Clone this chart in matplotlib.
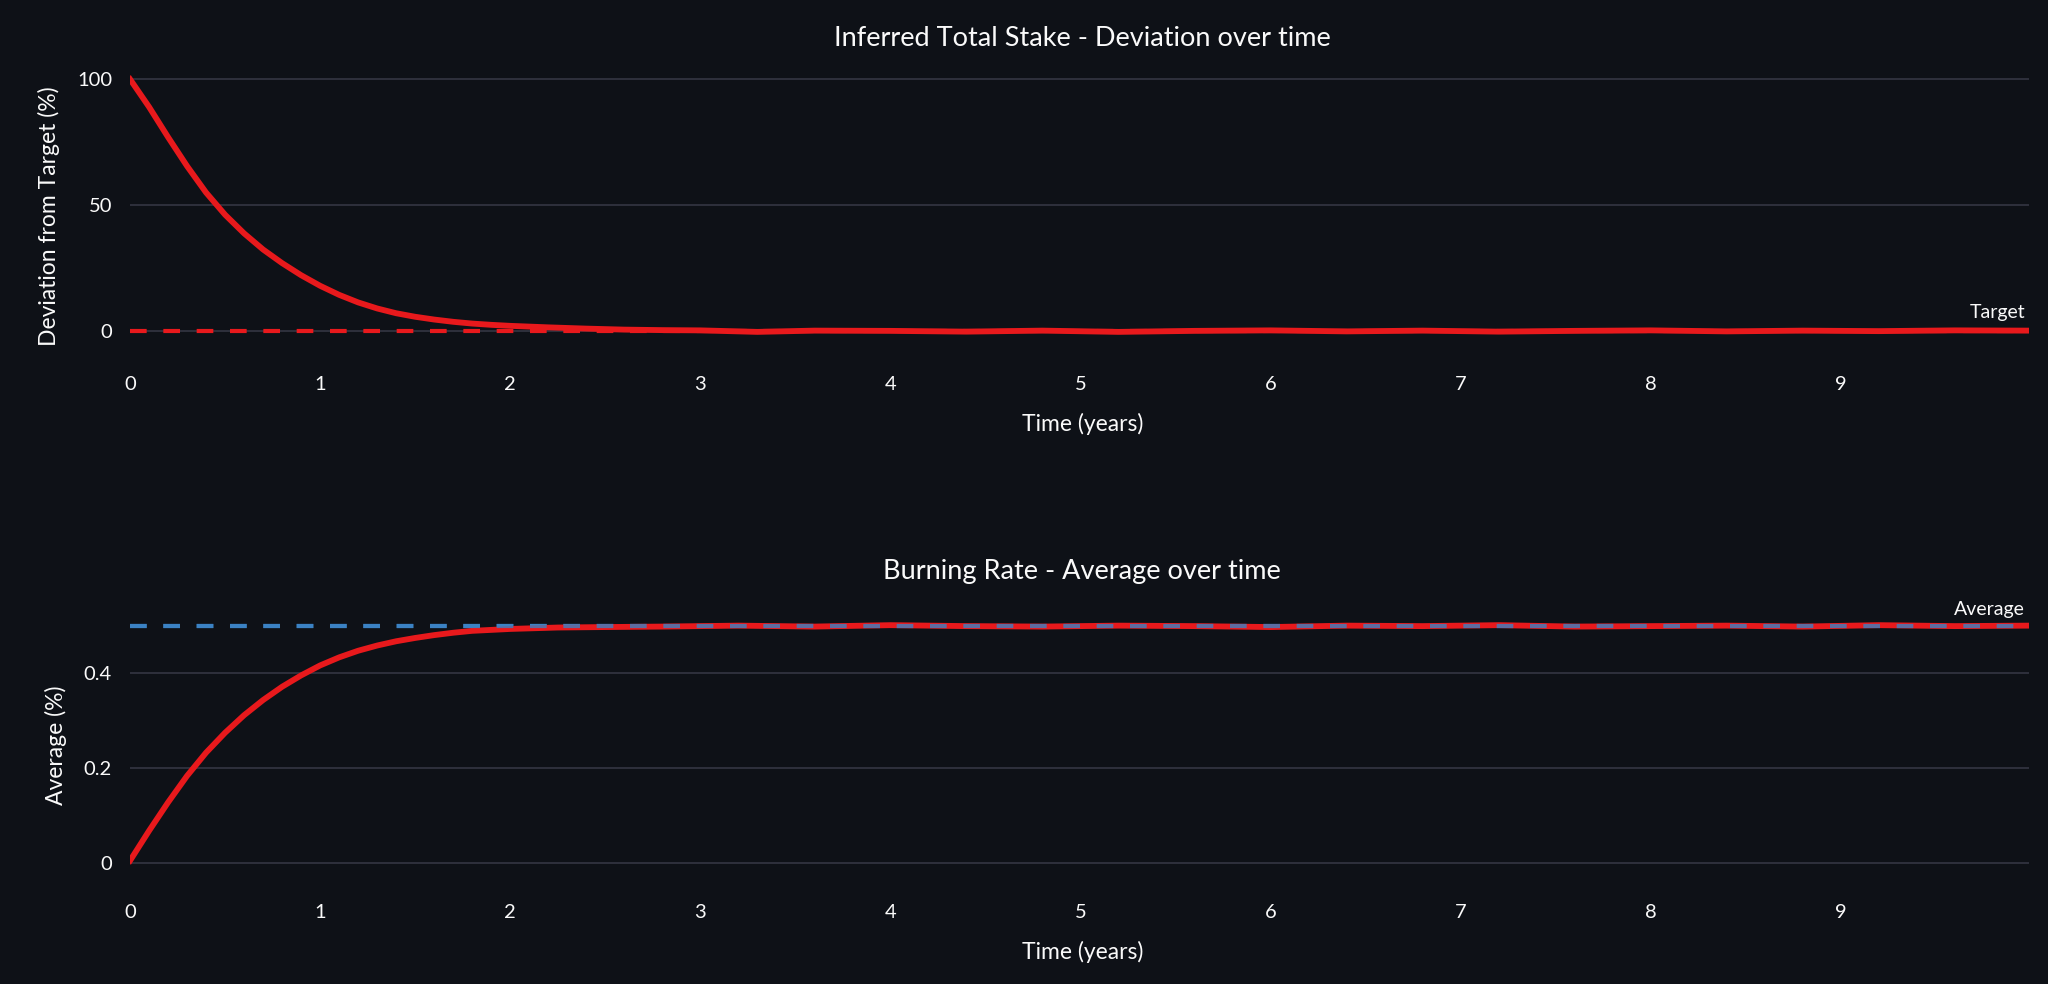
import matplotlib.pyplot as plt

plt.rcParams['font.family'] = ['Lato', 'DejaVu Sans']

BG = "#0e1117"
GRID = "#31333f"
TXT = "#fafafa"
RED = "#e8191c"
BLUE = "#3b82c4"

# values
t_dev = [0.0, 0.1, 0.2, 0.3, 0.4, 0.5, 0.6, 0.7, 0.8, 0.9, 1.0, 1.1, 1.2, 1.3, 1.4,
         1.5, 1.6, 1.7, 1.8, 1.9, 2.0, 2.2, 2.4, 2.6, 2.8, 3.0, 3.3, 3.6, 4.0, 4.4,
         4.8, 5.2, 5.6, 6.0, 6.4, 6.8, 7.2, 7.6, 8.0, 8.4, 8.8, 9.2, 9.6, 9.99]
deviation = [100, 89, 77, 65.5, 55, 46.2, 38.8, 32.4, 27, 22.2, 18, 14.4, 11.4, 9, 7.1,
             5.7, 4.6, 3.7, 3.0, 2.5, 2.1, 1.5, 1.0, 0.6, 0.4, 0.3, -0.3, 0.2, 0.1, -0.2,
             0.2, -0.3, 0.1, 0.3, -0.1, 0.2, -0.2, 0.1, 0.3, -0.1, 0.2, 0.0, 0.3, 0.2]

t_avg = [0.0, 0.1, 0.2, 0.3, 0.4, 0.5, 0.6, 0.7, 0.8, 0.9, 1.0, 1.1, 1.2, 1.3, 1.4,
         1.5, 1.6, 1.7, 1.8, 2.0, 2.25, 2.5, 2.8, 3.2, 3.6, 4.0, 4.4, 4.8, 5.2, 5.6,
         6.0, 6.4, 6.8, 7.2, 7.6, 8.0, 8.4, 8.8, 9.2, 9.6, 9.99]
average = [0.005, 0.068, 0.128, 0.184, 0.233, 0.275, 0.312, 0.344, 0.372, 0.396, 0.417,
           0.434, 0.448, 0.459, 0.468, 0.475, 0.481, 0.486, 0.490, 0.494, 0.497, 0.498,
           0.499, 0.501, 0.499, 0.502, 0.500, 0.499, 0.501, 0.500, 0.498, 0.501, 0.500,
           0.502, 0.499, 0.500, 0.501, 0.499, 0.502, 0.500, 0.501]

target = 0
avg_level = 0.5

fig = plt.figure(figsize=(20.48, 9.84), dpi=100, facecolor=BG)


def style(ax, yticks, ylabels, ylim):
    ax.set_facecolor(BG)
    for s in ax.spines.values():
        s.set_visible(False)
    ax.set_xlim(0, 9.99)
    ax.set_ylim(*ylim)
    ax.set_xticks(range(10))
    ax.set_yticks(yticks)
    ax.set_yticklabels(ylabels)
    ax.tick_params(length=0, colors=TXT, labelsize=14.5)
    ax.tick_params(axis='x', pad=10)
    ax.tick_params(axis='y', pad=13)
    ax.grid(axis='y', color=GRID, linewidth=1.3)
    ax.set_axisbelow(True)


ax1 = fig.add_axes([0.0635, 0.632, 0.9272, 0.2967])
style(ax1, [0, 50, 100], ["0", "50", "100"], (-12.3, 103.6))
ax1.axhline(target, color=RED, linewidth=3, dashes=(4, 4))
ax1.plot(t_dev, deviation, color=RED, linewidth=4.2)
ax1.text(9.97, 7.5, "Target", color=TXT, fontsize=14, ha='right', va='center')
ax1.set_ylabel("Deviation from Target (%)", color=TXT, fontsize=16.5, labelpad=12)

ax2 = fig.add_axes([0.0635, 0.0955, 0.9272, 0.2947])
style(ax2, [0, 0.2, 0.4], ["0", "0.2", "0.4"], (-0.057, 0.555))
ax2.axhline(avg_level, color=BLUE, linewidth=3, dashes=(4, 4))
ax2.plot(t_avg, average, color=RED, linewidth=4.2)
ax2.axhline(avg_level, color=BLUE, linewidth=3, dashes=(4, 4), alpha=0.8)
ax2.text(9.97, 0.536, "Average", color=TXT, fontsize=14, ha='right', va='center')
ax2.set_ylabel("Average (%)", color=TXT, fontsize=16.5, labelpad=12)

fig.text(0.5285, 1 - 39 / 984, "Inferred Total Stake - Deviation over time",
         color=TXT, fontsize=19.5, ha='center', va='center')
fig.text(0.5285, 1 - 424 / 984, "Time (years)", color=TXT, fontsize=16.5, ha='center', va='center')
fig.text(0.5285, 1 - 571 / 984, "Burning Rate - Average over time",
         color=TXT, fontsize=19.5, ha='center', va='center')
fig.text(0.5285, 1 - 952 / 984, "Time (years)", color=TXT, fontsize=16.5, ha='center', va='center')

fig.savefig("out.png", dpi=100, facecolor=BG)
